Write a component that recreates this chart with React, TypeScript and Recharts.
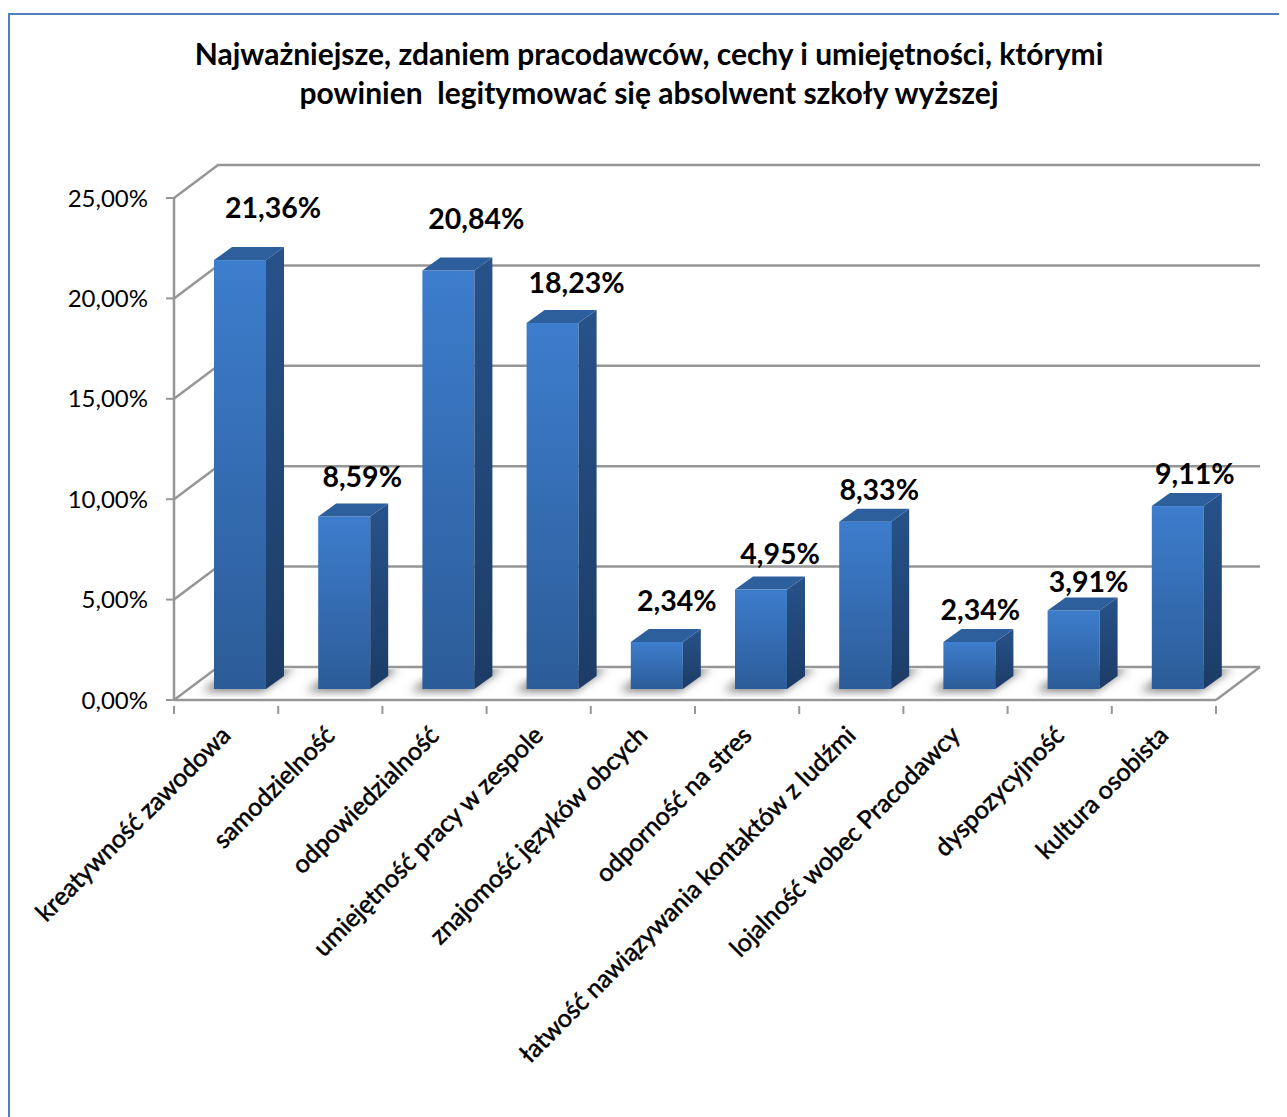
import { BarChart, Bar, XAxis, YAxis, CartesianGrid, LabelList } from 'recharts'

const categories = [
  'kreatywność zawodowa',
  'samodzielność',
  'odpowiedzialność',
  'umiejętność pracy w zespole',
  'znajomość języków obcych',
  'odporność na stres',
  'łatwość nawiązywania kontaktów z ludźmi',
  'lojalność wobec Pracodawcy',
  'dyspozycyjność',
  'kultura osobista',
]
const shares = [21.36, 8.59, 20.84, 18.23, 2.34, 4.95, 8.33, 2.34, 3.91, 9.11]
const yTicks = [0, 5, 10, 15, 20, 25]
const titleLines = [
  'Najważniejsze, zdaniem pracodawców, cechy i umiejętności, którymi',
  'powinien  legitymować się absolwent szkoły wyższej',
]

const data = categories.map((name, i) => ({ name, share: shares[i] }))

// hand placed labels in the original: [dx, dy] from the top middle of the bar front
const labelNudge = [
  [33, -53], [18, -41], [28, -53], [24, -41], [20, -42],
  [19, -37], [14, -33], [11, -33], [15, -29], [17, -33],
]

const FONT = 'Lato, "Open Sans", sans-serif'
const GREY = '#969696'
const CHART_W = 1277
const CHART_H = 1102
const Y_AXIS_W = 80
const X_AXIS_H = 400
const MARGIN = { top: 183, right: 71, left: 84, bottom: 17 }
const PLOT_W = CHART_W - MARGIN.left - MARGIN.right - Y_AXIS_W
const STEP = PLOT_W / categories.length
const WALL_DX = 44
const WALL_DY = 33
const BAR_DX = 14
const BAR_DY = 11
const DEPTH_X = 18
const DEPTH_Y = 13

const pct = (v: number) => v.toFixed(2).replace('.', ',') + '%'
const pts = (list: number[][]) => list.map(p => p.join(',')).join(' ')

function WallLine(props: any) {
  const { x1, y1, x2 } = props
  const backY = y1 - WALL_DY
  return (
    <g key={props.key}>
      <polyline
        points={pts([[x1, y1], [x1 + WALL_DX, backY], [x2 + WALL_DX, backY]])}
        fill="none" stroke={GREY} strokeWidth={2.5}
      />
      {y1 > 600 && (
        <line x1={x2} y1={y1} x2={x2 + WALL_DX} y2={backY} stroke={GREY} strokeWidth={2.5} />
      )}
    </g>
  )
}

function Bar3D(props: any) {
  const { x, y, width, height } = props
  const left = x + BAR_DX
  const right = left + width
  const top = y - BAR_DY
  const bottom = top + height
  return (
    <g>
      <g clipPath="url(#floorClip)">
        <polygon
          points={pts([
            [left - 12, bottom + 2], [right - 4, bottom + 2],
            [right + 28, bottom - 21], [left + 24, bottom - 21],
          ])}
          fill="#707070" filter="url(#floorBlur)"
        />
      </g>
      <rect x={left} y={top} width={width} height={height} fill="url(#barFront)" />
      <polygon
        points={pts([
          [right, top], [right + DEPTH_X, top - DEPTH_Y],
          [right + DEPTH_X, bottom - DEPTH_Y], [right, bottom],
        ])}
        fill="url(#barSide)"
      />
      <polygon
        points={pts([
          [left, top], [left + DEPTH_X, top - DEPTH_Y],
          [right + DEPTH_X, top - DEPTH_Y], [right, top],
        ])}
        fill="#2d5f9c"
      />
    </g>
  )
}

function ShareLabel(props: any) {
  const { x, y, width, value, index } = props
  const [dx, dy] = labelNudge[index]
  return (
    <text
      x={x + BAR_DX + width / 2 + dx}
      y={y - BAR_DY + dy}
      textAnchor="middle"
      dominantBaseline="central"
      fontFamily={FONT}
      fontWeight={700}
      fontSize={28.5}
      fill="#000"
    >
      {pct(value)}
    </text>
  )
}

function CategoryTick(props: any) {
  const { x, y, payload, index } = props
  const axisY = y - 2
  return (
    <g>
      <line x1={x - STEP / 2} y1={axisY} x2={x - STEP / 2} y2={axisY + 8} stroke={GREY} strokeWidth={2} />
      {index === categories.length - 1 && (
        <line x1={x + STEP / 2} y1={axisY} x2={x + STEP / 2} y2={axisY + 8} stroke={GREY} strokeWidth={2} />
      )}
      <text
        transform={`translate(${x + 6},${axisY + 31}) rotate(-45)`}
        textAnchor="end"
        fontFamily={FONT}
        fontSize={25}
        fill="#000"
        stroke="#000"
        strokeWidth={0.55}
      >
        {payload.value}
      </text>
    </g>
  )
}

export default function App() {
  const plotLeft = MARGIN.left + Y_AXIS_W
  const plotBottom = CHART_H - MARGIN.bottom - X_AXIS_H
  return (
    <div
      style={{
        position: 'relative',
        marginTop: 5,
        width: 1277,
        height: 1102,
        borderTop: '2px solid #4f81bd',
        borderLeft: '2px solid #4f81bd',
        background: '#fff',
        overflow: 'hidden',
      }}
    >
      <div
        style={{
          position: 'absolute',
          top: 19,
          left: 0,
          width: 1278,
          textAlign: 'center',
          fontFamily: FONT,
          fontWeight: 700,
          fontSize: 30,
          lineHeight: '39px',
          whiteSpace: 'pre',
          color: '#000',
        }}
      >
        {titleLines.map(line => <div key={line}>{line}</div>)}
      </div>
      <BarChart width={CHART_W} height={CHART_H} data={data} margin={MARGIN} barSize={52}>
        <defs>
          <linearGradient id="barFront" x1="0" y1="0" x2="0" y2="1">
            <stop offset="0%" stopColor="#3d7dcd" />
            <stop offset="100%" stopColor="#2c5c98" />
          </linearGradient>
          <linearGradient id="barSide" x1="0" y1="0" x2="0" y2="1">
            <stop offset="0%" stopColor="#27528a" />
            <stop offset="100%" stopColor="#1c3c66" />
          </linearGradient>
          <filter id="floorBlur" x="-30%" y="-60%" width="160%" height="220%">
            <feGaussianBlur stdDeviation="5" />
          </filter>
          <clipPath id="floorClip">
            <polygon
              points={pts([
                [plotLeft + 3, plotBottom - 3],
                [plotLeft + PLOT_W, plotBottom - 3],
                [plotLeft + PLOT_W + WALL_DX - 3, plotBottom - WALL_DY + 2],
                [plotLeft + WALL_DX, plotBottom - WALL_DY + 2],
              ])}
            />
          </clipPath>
        </defs>
        <CartesianGrid vertical={false} horizontal={WallLine} />
        <XAxis
          dataKey="name"
          height={X_AXIS_H}
          interval={0}
          tickLine={false}
          tick={CategoryTick}
          axisLine={{ stroke: GREY, strokeWidth: 2.5 }}
        />
        <YAxis
          width={Y_AXIS_W}
          domain={[0, 25]}
          ticks={yTicks}
          tickFormatter={pct}
          tickSize={8}
          tickMargin={18}
          tick={{ fontFamily: FONT, fontSize: 24, fill: '#000' }}
          tickLine={{ stroke: GREY, strokeWidth: 2 }}
          axisLine={{ stroke: GREY, strokeWidth: 2.5 }}
        />
        <Bar dataKey="share" shape={Bar3D} isAnimationActive={false}>
          <LabelList dataKey="share" content={ShareLabel} />
        </Bar>
      </BarChart>
    </div>
  )
}
